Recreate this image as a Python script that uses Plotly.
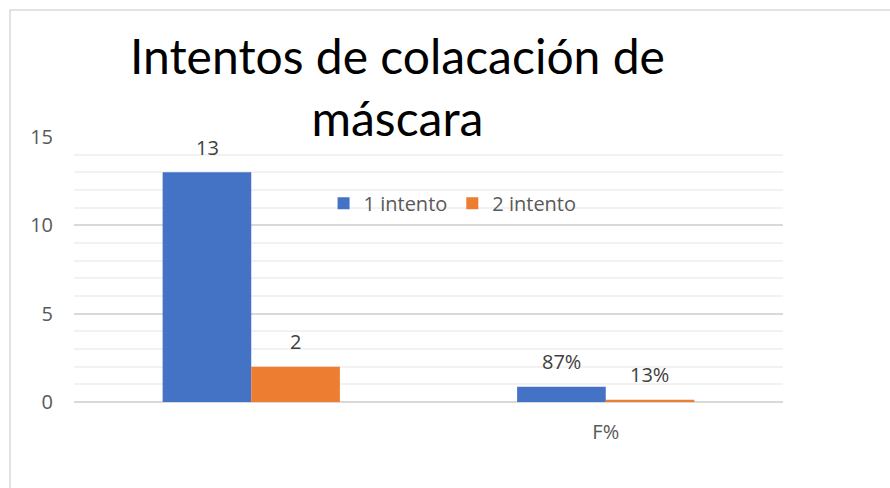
import plotly.graph_objects as go

categories = [" ", "F%"]
series_names = ["1 intento", "2 intento"]
values_1 = [13, 0.87]
values_2 = [2, 0.13]
labels_1 = ["13", "87%"]
labels_2 = ["2", "13%"]
colors = ["#4472C4", "#ED7D31"]
y_ticks = [0, 5, 10, 15]

TFONT = "Lato, Open Sans, sans-serif"
FONT = "Open Sans, Lato, sans-serif"

fig = go.Figure()
for name, vals, labs, col, shift in [(series_names[0], values_1, labels_1, colors[0], -44),
                                     (series_names[1], values_2, labels_2, colors[1], 44)]:
    fig.add_trace(go.Bar(
        x=categories, y=vals, name=name, marker_color=col,
        marker_line_width=0,
    ))
    for c, v, t in zip(categories, vals, labs):
        fig.add_annotation(x=c, y=v, text=t, showarrow=False, xref="x", yref="y",
                           xshift=shift, yshift=25, yanchor="middle",
                           font=dict(family=FONT, size=20, color="#404040"))

fig.add_annotation(text="Intentos de colacación de<br>máscara", showarrow=False,
                   xref="paper", yref="paper", x=(397 - 74) / 709, xanchor="center",
                   y=(402 - 148) / 265, yanchor="bottom",
                   font=dict(family=TFONT, size=48, color="#000000"))

fig.update_layout(
    width=890, height=488,
    margin=dict(l=74, r=107, t=137, b=86),
    paper_bgcolor="white", plot_bgcolor="white",
    barmode="group", bargap=0.5, bargroupgap=0,
    showlegend=True,
    legend=dict(orientation="h", x=0.352, y=0.75, xanchor="left", yanchor="middle",
                font=dict(family=FONT, size=20, color="#595959"),
                bgcolor="rgba(0,0,0,0)", itemwidth=30, traceorder="normal"),
    font=dict(family=FONT),
)

fig.update_yaxes(range=[0, 15], tickvals=y_ticks, showgrid=True, gridcolor="#D9D9D9",
                 gridwidth=1.5, zeroline=True, zerolinecolor="#D9D9D9", zerolinewidth=1.5,
                 showline=False, ticks="",
                 minor=dict(dtick=1, showgrid=True, gridcolor="#F2F2F2", gridwidth=1.5),
                 tickfont=dict(family=FONT, size=20, color="#595959"),
                 ticklabelstandoff=20)
fig.update_xaxes(showgrid=False, showline=False, ticks="",
                 tickfont=dict(family=FONT, size=20, color="#595959"),
                 ticklabelstandoff=16)

fig.add_shape(type="rect", xref="paper", yref="paper",
              x0=(10 - 74) / 709, x1=(900 - 74) / 709,
              y0=(402 - 500) / 265, y1=(402 - 10) / 265,
              line=dict(color="#D9D9D9", width=1.5), fillcolor="rgba(0,0,0,0)", layer="below")

fig.write_html("out.html")
